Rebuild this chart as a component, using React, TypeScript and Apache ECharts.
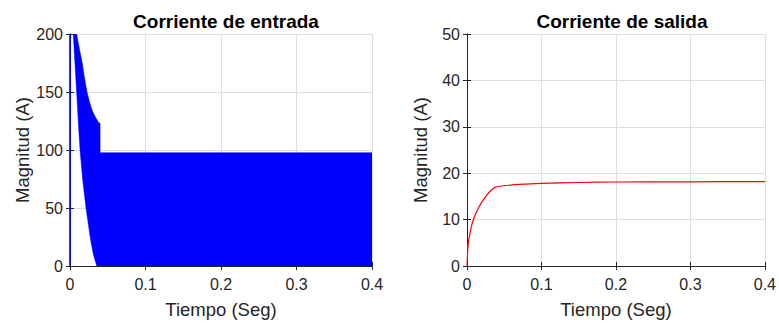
import React, { useEffect, useRef } from "react";
import * as echarts from "echarts";

// Input current (switching waveform drawn as its envelope band)
const inLowerT = [0.0044, 0.0066, 0.0088, 0.011, 0.0133, 0.017, 0.0212, 0.0245, 0.0274, 0.031, 0.0354];
const inLowerV = [200, 174, 150, 124, 100, 73, 50, 35, 22, 10, 0];
const inUpperT = [0.0088, 0.0125, 0.0159, 0.019, 0.0225, 0.026, 0.03, 0.034, 0.0376, 0.0398, 0.0399, 0.4];
const inUpperV = [200, 187, 176, 163, 150, 141, 133, 128, 124, 123, 97.7, 97.7];
const inEndT = 0.4;
const inSpikeT = [0, 0];
const inSpikeV = [0, 200];

// Output current
const outT = [0, 0.0013, 0.0025, 0.004, 0.006, 0.0084, 0.0115, 0.015, 0.0216, 0.0305, 0.0385, 0.057, 0.08, 0.1, 0.15, 0.2, 0.3, 0.4];
const outV = [0, 4.2, 5.8, 7.0, 8.6, 9.9, 11.2, 12.4, 14.2, 16.0, 17.0, 17.4, 17.65, 17.8, 18.0, 18.1, 18.15, 18.2];

const xMin = 0, xMax = 0.4, xStep = 0.1;
const yInMin = 0, yInMax = 200, yInStep = 50;
const yOutMin = 0, yOutMax = 50, yOutStep = 10;

const titles = ["Corriente de entrada", "Corriente de salida"];
const xName = "Tiempo (Seg)";
const yName = "Magnitud (A)";

const FONT = "'Liberation Sans', Arial, Helvetica, sans-serif";
const INK = "#262626";
const GRID = "#dedede";

export default function App() {
  const ref = useRef<HTMLDivElement>(null);
  useEffect(() => {
    if (!ref.current) return;
    const chart = echarts.init(ref.current, undefined, { renderer: "svg" });

    const bottomX = (gi: number) => ({
      type: "value",
      gridIndex: gi,
      min: xMin,
      max: xMax,
      interval: xStep,
      position: "bottom",
      axisLine: { show: true, lineStyle: { color: INK, width: 1 } },
      axisTick: { show: true, inside: true, length: 4, lineStyle: { color: INK } },
      splitLine: { show: true, lineStyle: { color: GRID, width: 1 } },
      axisLabel: { color: INK, fontSize: 16, fontFamily: FONT, margin: 10, showMinLabel: true, showMaxLabel: true },
      name: xName,
      nameLocation: "middle",
      nameGap: 34,
      nameTextStyle: { color: INK, fontSize: 18.5, fontFamily: FONT },
    });
    const topX = (gi: number) => ({
      type: "value",
      gridIndex: gi,
      min: xMin,
      max: xMax,
      interval: xStep,
      position: "top",
      axisLine: { show: true, lineStyle: { color: INK, width: 1 } },
      axisTick: { show: true, inside: true, length: 4, lineStyle: { color: INK } },
      splitLine: { show: false },
      axisLabel: { show: false },
    });
    const leftY = (gi: number, min: number, max: number, step: number) => ({
      type: "value",
      gridIndex: gi,
      min,
      max,
      interval: step,
      position: "left",
      axisLine: { show: true, lineStyle: { color: INK, width: 1 } },
      axisTick: { show: true, inside: true, length: 4, lineStyle: { color: INK } },
      splitLine: { show: true, lineStyle: { color: GRID, width: 1 } },
      axisLabel: { color: INK, fontSize: 16, fontFamily: FONT, margin: 7 },
      name: yName,
      nameLocation: "middle",
      nameGap: 37,
      nameTextStyle: { color: INK, fontSize: 18.5, fontFamily: FONT },
    });
    const rightY = (gi: number, min: number, max: number, step: number) => ({
      type: "value",
      gridIndex: gi,
      min,
      max,
      interval: step,
      position: "right",
      axisLine: { show: true, lineStyle: { color: INK, width: 1 } },
      axisTick: { show: true, inside: true, length: 4, lineStyle: { color: INK } },
      splitLine: { show: false },
      axisLabel: { show: false },
    });

    chart.setOption({
      animation: false,
      backgroundColor: "#ffffff",
      title: [
        {
          text: titles[0],
          left: 221,
          top: 7,
          textAlign: "center",
          textStyle: { fontSize: 19, fontWeight: "bold", color: "#000", fontFamily: FONT },
        },
        {
          text: titles[1],
          left: 617,
          top: 7,
          textAlign: "center",
          textStyle: { fontSize: 19, fontWeight: "bold", color: "#000", fontFamily: FONT },
        },
      ],
      grid: [
        { left: 70, right: 407, top: 34, bottom: 61 },
        { left: 467, right: 11, top: 34, bottom: 61 },
      ],
      xAxis: [bottomX(0), topX(0), bottomX(1), topX(1)],
      yAxis: [
        leftY(0, yInMin, yInMax, yInStep),
        rightY(0, yInMin, yInMax, yInStep),
        leftY(1, yOutMin, yOutMax, yOutStep),
        rightY(1, yOutMin, yOutMax, yOutStep),
      ],
      series: [
        {
          type: "custom",
          xAxisIndex: 0,
          yAxisIndex: 0,
          clip: true,
          data: [[inUpperT[0], inUpperV[0]]],
          encode: { x: 0, y: 1 },
          renderItem: (params: any, api: any) => {
            if (params.dataIndex !== 0) return null;
            const pts: number[][] = [];
            for (let i = 0; i < inUpperT.length; i++) pts.push(api.coord([inUpperT[i], inUpperV[i]]));
            pts.push(api.coord([inEndT, 0]));
            for (let i = inLowerT.length - 1; i >= 0; i--) pts.push(api.coord([inLowerT[i], inLowerV[i]]));
            return {
              type: "polygon",
              shape: { points: pts },
              style: { fill: "#0000ff", stroke: "#0000ff", lineWidth: 0.5 },
            };
          },
        },
        {
          type: "line",
          xAxisIndex: 0,
          yAxisIndex: 0,
          data: inSpikeT.map((t, i) => [t, inSpikeV[i]]),
          showSymbol: false,
          symbol: "none",
          lineStyle: { color: "#0000ff", width: 1.6 },
          z: 3,
        },
        {
          type: "line",
          xAxisIndex: 2,
          yAxisIndex: 2,
          data: outT.map((t, i) => [t, outV[i]]),
          showSymbol: false,
          symbol: "none",
          smooth: 0.3,
          lineStyle: { color: "#ff0000", width: 1.2 },
        },
      ],
    });
    return () => chart.dispose();
  }, []);
  return (
    <div
      ref={ref}
      style={{ position: "fixed", left: 0, top: 0, width: 779, height: 327, background: "#fff" }}
    />
  );
}
